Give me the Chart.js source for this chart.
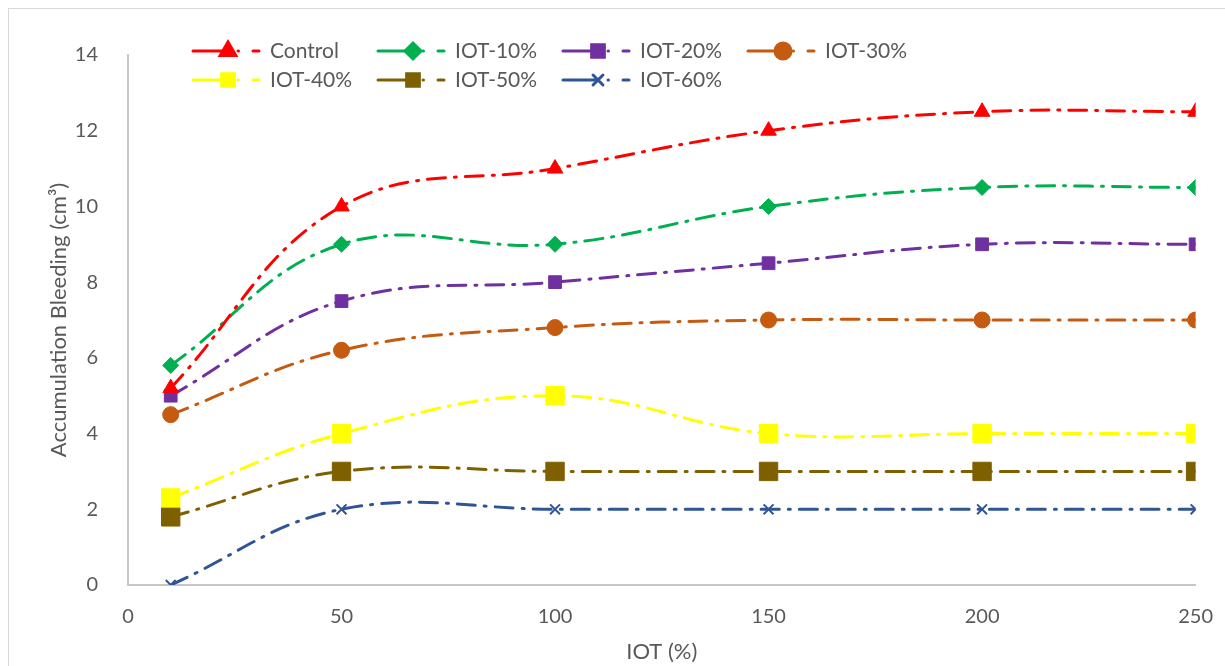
<!DOCTYPE html>
<html>
<head>
<meta charset="utf-8">
<script src="https://cdn.jsdelivr.net/npm/chart.js@4.4.0/dist/chart.umd.min.js"></script>
<style>
  html, body { margin: 0; padding: 0; background: #fff; }
  #wrap { position: relative; width: 1225px; height: 666px; }
</style>
</head>
<body>
<div id="wrap"><canvas id="chart"></canvas></div>
<script>
// Data
const xValues = [10, 50, 100, 150, 200, 250];
const seriesNames = ["Control", "IOT-10%", "IOT-20%", "IOT-30%", "IOT-40%", "IOT-50%", "IOT-60%"];
const control = [5.2, 10, 11, 12, 12.5, 12.5];
const iot10 = [5.8, 9, 9, 10, 10.5, 10.5];
const iot20 = [5.0, 7.5, 8, 8.5, 9, 9];
const iot30 = [4.5, 6.2, 6.8, 7, 7, 7];
const iot40 = [2.3, 4, 5, 4, 4, 4];
const iot50 = [1.8, 3, 3, 3, 3, 3];
const iot60 = [0, 2, 2, 2, 2, 2];
const xTicks = [0, 50, 100, 150, 200, 250];
const yTicks = [0, 2, 4, 6, 8, 10, 12, 14];

// Styles
const colors = ["#FF0000", "#00B050", "#7030A0", "#C55A11", "#FFFF00", "#7F6000", "#2F5597"];
const markers = ["triangle", "rectRot", "rect", "circle", "rect", "rect", "crossRot"];
const markerSizes = [9, 8, 9, 8, 13, 13, 7];
const allValues = [control, iot10, iot20, iot30, iot40, iot50, iot60];

const textColor = "#595959";
const fontFamily = "Lato, 'Open Sans', sans-serif";

const datasets = allValues.map((vals, i) => ({
  label: seriesNames[i],
  data: vals.map((v, j) => ({ x: xValues[j], y: v })),
  borderColor: colors[i],
  backgroundColor: colors[i],
  borderWidth: 3,
  borderDash: [18, 9, 2, 9],
  borderCapStyle: "round",
  tension: 0.4,
  pointStyle: markers[i],
  pointRadius: markerSizes[i],
  pointBorderWidth: markers[i] === "crossRot" ? 2 : 1,
  pointBorderColor: colors[i],
  pointBackgroundColor: colors[i],
}));

// Custom legend drawn like the spreadsheet one
const legendPlugin = {
  id: "sheetLegend",
  afterDatasetsDraw(chart) {
    const ctx = chart.ctx;
    const startX = 193, spacing = 185, rowY = [51, 80];
    ctx.save();
    seriesNames.forEach((name, i) => {
      const col = i < 4 ? i : i - 4;
      const row = i < 4 ? 0 : 1;
      const x = startX + col * spacing;
      const y = rowY[row];
      ctx.strokeStyle = colors[i];
      ctx.lineWidth = 3;
      ctx.lineCap = "round";
      ctx.setLineDash([]);
      ctx.beginPath();
      ctx.moveTo(x, y);
      ctx.lineTo(x + 33, y);
      ctx.moveTo(x + 45, y);
      ctx.lineTo(x + 45.5, y);
      ctx.moveTo(x + 60, y);
      ctx.lineTo(x + 66, y);
      ctx.stroke();
      ctx.fillStyle = colors[i];
      Chart.helpers.drawPoint(ctx, {
        pointStyle: markers[i],
        radius: Math.min(markerSizes[i], 9),
        borderWidth: markers[i] === "crossRot" ? 2 : 1,
      }, x + 35, y);
      ctx.fillStyle = textColor;
      ctx.font = "21px " + fontFamily;
      ctx.textBaseline = "middle";
      ctx.textAlign = "left";
      ctx.fillText(name, x + 77, y);
    });
    ctx.restore();
  },
  beforeDraw(chart) {
    const ctx = chart.ctx;
    ctx.save();
    ctx.fillStyle = "#fff";
    ctx.fillRect(0, 0, chart.width, chart.height);
    ctx.strokeStyle = "#d9d9d9";
    ctx.lineWidth = 1;
    ctx.strokeRect(8.5, 8.5, chart.width, chart.height);
    ctx.restore();
  },
};

const config = {
  type: "line",
  data: { datasets: datasets },
  options: {
    responsive: true,
    maintainAspectRatio: false,
    animation: false,
    layout: { padding: { left: 20, right: 28, top: 55, bottom: 0 } },
    scales: {
      x: {
        type: "linear",
        min: 0,
        max: 250,
        afterBuildTicks: (scale) => { scale.ticks = xTicks.map((v) => ({ value: v })); },
        afterFit: (scale) => { scale.height = 81; },
        grid: { display: false },
        border: { display: true, color: "#c8c8c8", width: 2 },
        ticks: { color: textColor, font: { family: fontFamily, size: 20 }, padding: 12, maxRotation: 0 },
        title: {
          display: true,
          text: "IOT (%)",
          color: textColor,
          font: { family: fontFamily, size: 22 },
          padding: { top: 0, bottom: 1 },
        },
      },
      y: {
        min: 0,
        max: 14,
        afterBuildTicks: (scale) => { scale.ticks = yTicks.map((v) => ({ value: v })); },
        afterFit: (scale) => { scale.width = 108; },
        grid: { display: false },
        border: { display: true, color: "#c8c8c8", width: 2 },
        ticks: { color: textColor, font: { family: fontFamily, size: 20 }, padding: 22 },
        title: {
          display: true,
          text: "Accumulation Bleeding (cm³)",
          color: textColor,
          font: { family: fontFamily, size: 22 },
          padding: { top: 26, bottom: 0 },
        },
      },
    },
    plugins: {
      legend: { display: false },
      tooltip: { enabled: false },
    },
  },
  plugins: [legendPlugin],
};

new Chart(document.getElementById("chart"), config);
</script>
</body>
</html>
